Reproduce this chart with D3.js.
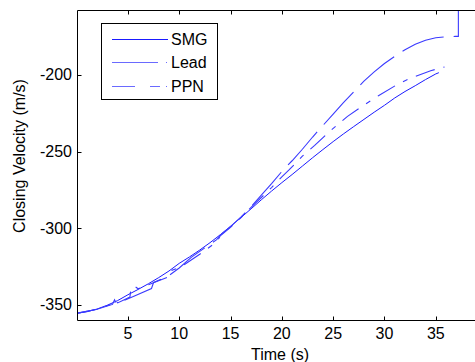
<!DOCTYPE html>
<html><head><meta charset="utf-8">
<script src="https://cdn.jsdelivr.net/npm/d3@7"></script>
<style>body{margin:0;background:#fff}svg{display:block}text{font-family:Arial,"Liberation Sans",Helvetica,sans-serif;}</style>
</head><body>
<svg id="c" width="475" height="362"></svg>
<script>
const seriesNames = ["SMG", "Lead", "PPN"];
const xTicks = [5, 10, 15, 20, 25, 30, 35];
const yTicks = [-350, -300, -250, -200];
const xLabel = "Time (s)";
const yLabel = "Closing Velocity (m/s)";

const smg = [[0.1,-355.5],[1,-354.6],[2,-352.8],[3,-350.3],[4,-347.3],[5,-343.5],[6,-340],[7,-336.3],[8,-332.3],[9,-328],[10,-323],[11,-318.8],[12,-314.3],[13,-309.5],[14,-304.3],[15,-298.8],[16,-293.2],[17,-287.4],[18,-281.5],[19,-275.8],[20,-270.3],[21,-265],[22,-259.5],[23,-254],[24,-248.7],[25,-243.5],[26,-238.5],[27,-233.7],[28,-229],[29,-224.3],[30,-219.8],[31,-215],[32,-210.8],[33,-207],[34,-203],[35,-199.3],[35.3,-198.5]];
const lead = [[0.1,-355.5],[2,-353],[3.5,-349.3],[3.8,-347.2],[4.0,-348.8],[5.2,-345],[5.3,-338.8],[5.7,-338.2],[6.0,-339.6],[7,-337],[9.1,-331.4],[9.3,-327.5],[10.1,-325.6],[12,-317],[13.7,-308.8],[14,-305],[15,-299.5],[16,-293.3],[17,-286.5],[18,-280],[19,-273.5],[20,-266.5],[20.7,-262],[22,-253],[23.2,-246],[24.8,-236],[26.4,-227],[27.7,-221],[29.45,-213.4],[31.2,-206.4],[32.5,-202.2],[34.5,-197.2],[35.85,-194.8]];
const ppn = [[0.1,-355.5],[2,-353],[3.5,-349.8],[3.7,-346.8],[3.9,-349.3],[5.36,-345.1],[7.3,-339.4],[7.5,-335.5],[9,-331],[10,-326],[11.2,-318.9],[13.65,-307.5],[14,-304.5],[15,-299],[16,-292.8],[17,-286],[18,-278.5],[19,-271],[20,-263],[21,-256],[22,-248.5],[23,-240.5],[24,-233],[25,-225.5],[26,-218],[27,-211],[28,-204],[29,-198],[30,-192.5],[31,-187.8],[32,-183.5],[33,-180],[34,-177.3],[35,-175.7],[36,-175],[36.9,-174.8],[37.2,-174.8],[37.2,-150]];

const L = 77.5, T = 10.5, B = 320.5, R = 483;
const x = d3.scaleLinear().domain([0.09, 39.6]).range([L, R]);
const y = d3.scaleLinear().domain([-360.3, -157.9]).range([B, T]);
const svg = d3.select("#c");

svg.append("clipPath").attr("id","clip").append("rect")
  .attr("x", L).attr("y", T).attr("width", R - L).attr("height", B - T);

const line = d3.line().x(d => x(d[0])).y(d => y(d[1]));
const g = svg.append("g").attr("clip-path","url(#clip)");
const styles = [
  {data: smg, color: "#1a1aff", dash: null, w: 1},
  {data: lead, color: "#3a3aff", dash: "20,9,5,9", w: 1.1},
  {data: ppn, color: "#3a3aff", dash: "44,10", w: 1.1}
];
styles.forEach(s => {
  g.append("path").datum(s.data).attr("d", line).attr("fill","none")
   .attr("stroke", s.color).attr("stroke-width", s.w)
   .attr("stroke-dasharray", s.dash);
});

// axes box
const ax = svg.append("g").attr("stroke","#000").attr("stroke-width",1).attr("fill","none");
ax.append("line").attr("x1",L).attr("x2",L).attr("y1",T).attr("y2",B);
ax.append("line").attr("x1",L).attr("x2",R).attr("y1",B).attr("y2",B);
ax.append("line").attr("x1",L).attr("x2",R).attr("y1",T).attr("y2",T);
ax.append("line").attr("x1",R).attr("x2",R).attr("y1",T).attr("y2",B);

xTicks.forEach(t => {
  const px = Math.round(x(t)) + 0.5;
  ax.append("line").attr("x1",px).attr("x2",px).attr("y1",B).attr("y2",B-4);
  ax.append("line").attr("x1",px).attr("x2",px).attr("y1",T).attr("y2",T+4);
  svg.append("text").attr("x",x(t)).attr("y",339).attr("text-anchor","middle")
    .attr("font-size",16).attr("fill","#000").text(t);
});
yTicks.forEach(t => {
  const py = Math.round(y(t)) + 0.5;
  ax.append("line").attr("x1",L).attr("x2",L+4).attr("y1",py).attr("y2",py);
  svg.append("text").attr("x",72).attr("y",y(t)+5.5).attr("text-anchor","end")
    .attr("font-size",16).attr("fill","#000").text(t);
});

svg.append("text").attr("x",280).attr("y",360).attr("text-anchor","middle")
  .attr("font-size",16).attr("fill","#000").text(xLabel);
svg.append("text").attr("transform","translate(25,156) rotate(-90)").attr("text-anchor","middle")
  .attr("font-size",16).attr("fill","#000").text(yLabel);

// legend
const lg = svg.append("g");
lg.append("rect").attr("x",101.5).attr("y",23.5).attr("width",116).attr("height",76)
  .attr("fill","#fff").attr("stroke","#000").attr("stroke-width",1);
const rows = [39.5, 62.5, 86.5];
const legDash = [null, "46,8,1,30", "23,15,10,6,1,30"];
const legColor = ["#1a1aff", "#6a6aff", "#6a6aff"];
seriesNames.forEach((n, i) => {
  lg.append("line").attr("x1",112).attr("x2",168).attr("y1",rows[i]).attr("y2",rows[i])
    .attr("stroke",legColor[i]).attr("stroke-width",1).attr("stroke-dasharray",legDash[i]);
  lg.append("text").attr("x",171).attr("y",rows[i]+5.5).attr("font-size",16).attr("fill","#000").text(n);
});
</script>
</body></html>
